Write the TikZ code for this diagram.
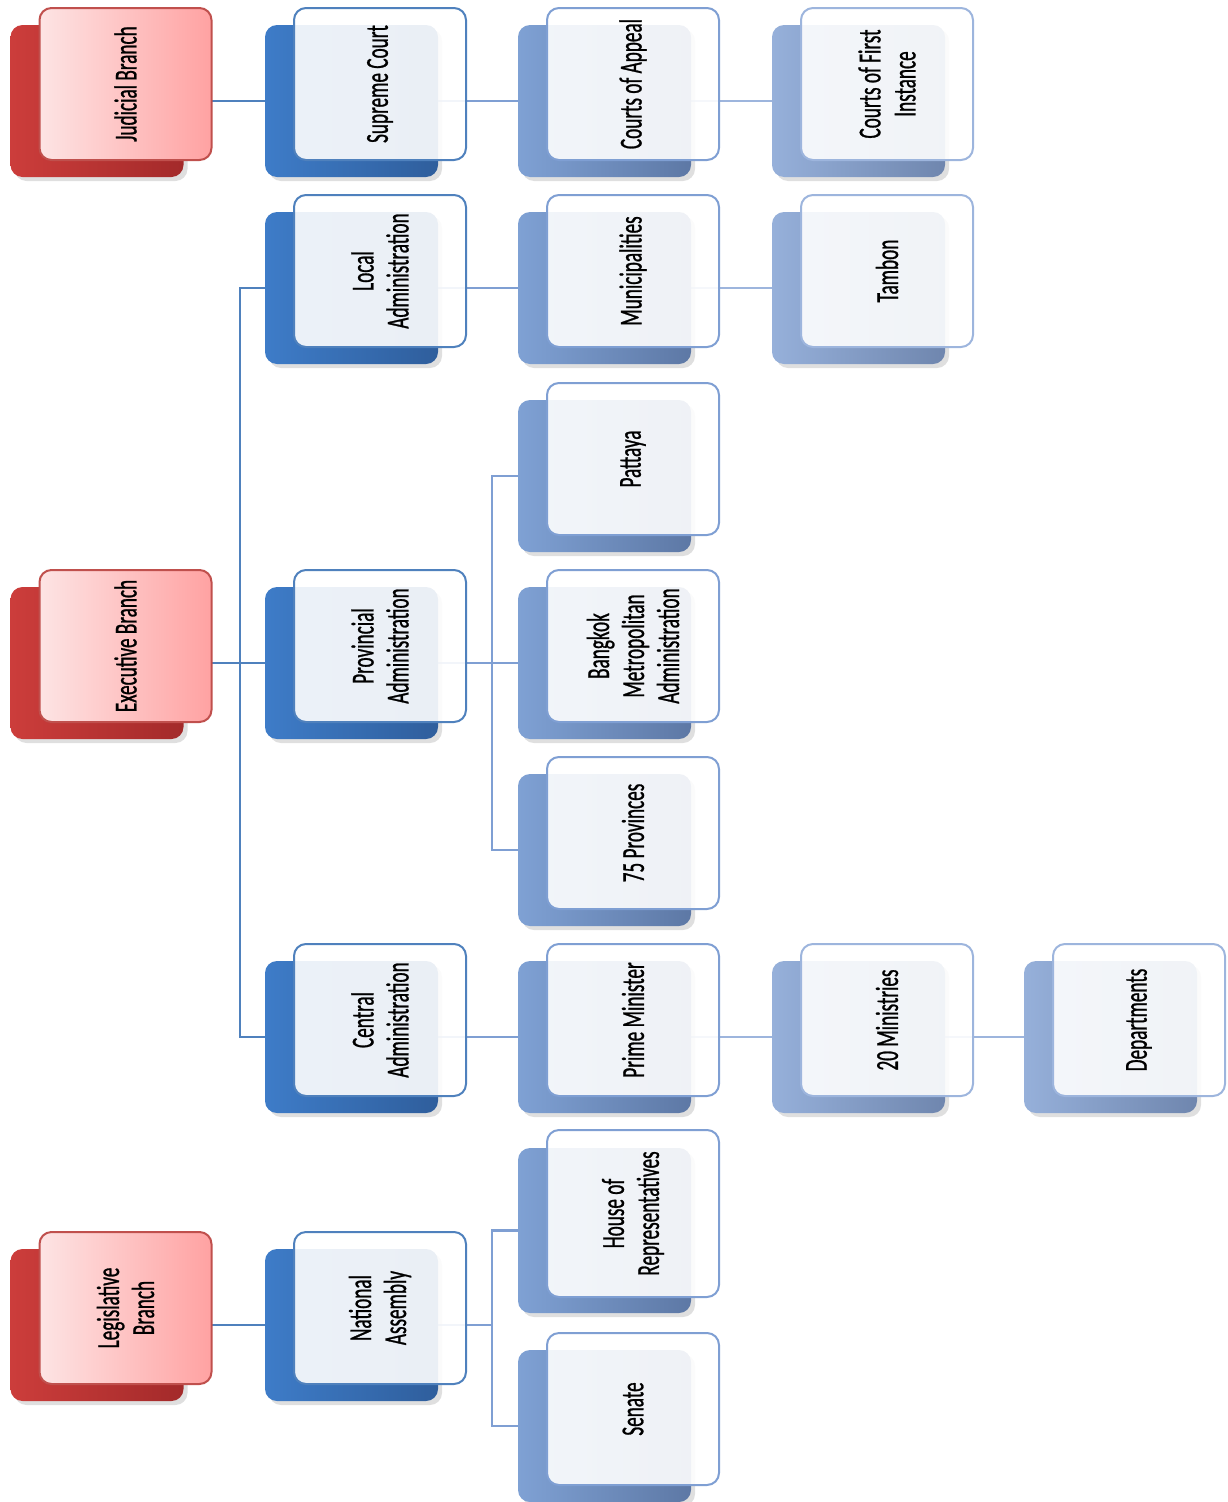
\documentclass[tikz,border=0pt]{standalone}
\usepackage{fontspec}
\setmainfont{Carlito}[FakeStretch=0.6,FakeBold=0.8]
\usepackage{tikz}
\usetikzlibrary{positioning,calc,shadows,backgrounds}
\definecolor{RedBack}{HTML}{CC3D3B}
\definecolor{RedBackDk}{HTML}{A32A2A}
\definecolor{RedFront}{HTML}{FDE4E4}
\definecolor{RedFrontDk}{HTML}{FFA2A2}
\definecolor{RedLine}{HTML}{C0504D}
\definecolor{BlueA}{HTML}{3E7CC8}
\definecolor{BlueADk}{HTML}{2F5E9C}
\definecolor{BlueALine}{HTML}{4F81BD}
\definecolor{BlueB}{HTML}{7FA1D4}
\definecolor{BlueBDk}{HTML}{5D78A5}
\definecolor{BlueBLine}{HTML}{7F9FD3}
\definecolor{BlueC}{HTML}{96B0DA}
\definecolor{BlueCDk}{HTML}{6F86AE}
\definecolor{BlueCLine}{HTML}{9DB5DD}
\tikzset{
  backbox/.style={rounded corners=12pt,minimum width=173pt,minimum height=152pt,inner sep=0pt,
    drop shadow={opacity=0.25,shadow xshift=4pt,shadow yshift=-4pt}},
  rback/.style={backbox,left color=RedBack,right color=RedBackDk},
  aback/.style={backbox,left color=BlueA,right color=BlueADk},
  bback/.style={backbox,left color=BlueB,right color=BlueBDk},
  cback/.style={backbox,left color=BlueC,right color=BlueCDk},
  frontbox/.style={rotate=90,rounded corners=12pt,minimum width=152pt,minimum height=172pt,
    inner sep=0pt,align=center,line width=2pt,font=\fontsize{32}{35}\selectfont},
  % the shading is not turned with the node, so left/right stay on the page
  rfront/.style={frontbox,draw=RedLine,left color=RedFront,right color=RedFrontDk},
  afront/.style={frontbox,draw=BlueALine,fill=white,fill opacity=0.9,text opacity=1},
  bfront/.style={frontbox,draw=BlueBLine,fill=white,fill opacity=0.9,text opacity=1},
  cfront/.style={frontbox,draw=BlueCLine,fill=white,fill opacity=0.9,text opacity=1},
  link/.style={line width=2.5pt}
}

\begin{document}
\begin{tikzpicture}[x=1pt,y=-1pt]
\useasboundingbox (0,0) rectangle (1227,1502);

% judicial row
\node[rback] (jud-b) at (97,101) {};
\node[rfront] (jud) at ($(jud-b)+(28.5,-17)$) {Judicial Branch};
\node[aback] (sup-b) at (351.5,101) {};
\node[afront] (sup) at ($(sup-b)+(28.5,-17)$) {Supreme Court};
\node[bback] (app-b) at (604.5,101) {};
\node[bfront] (app) at ($(app-b)+(28.5,-17)$) {Courts of Appeal};
\node[cback] (fir-b) at (858.5,101) {};
\node[cfront] (fir) at ($(fir-b)+(28.5,-17)$) {Courts of First\\Instance};

% executive
\node[rback] (exe-b) at (97,663) {};
\node[rfront] (exe) at ($(exe-b)+(28.5,-17)$) {Executive Branch};

\node[aback] (loc-b) at (351.5,288) {};
\node[afront] (loc) at ($(loc-b)+(28.5,-17)$) {Local\\Administration};
\node[bback] (mun-b) at (604.5,288) {};
\node[bfront] (mun) at ($(mun-b)+(28.5,-17)$) {Municipalities};
\node[cback] (tam-b) at (858.5,288) {};
\node[cfront] (tam) at ($(tam-b)+(28.5,-17)$) {Tambon};

\node[aback] (prv-b) at (351.5,663) {};
\node[afront] (prv) at ($(prv-b)+(28.5,-17)$) {Provincial\\Administration};
\node[bback] (pat-b) at (604.5,476) {};
\node[bfront] (pat) at ($(pat-b)+(28.5,-17)$) {Pattaya};
\node[bback] (bkk-b) at (604.5,663) {};
\node[bfront] (bkk) at ($(bkk-b)+(28.5,-17)$) {Bangkok\\Metropolitan\\Administration};
\node[bback] (pvs-b) at (604.5,850) {};
\node[bfront] (pvs) at ($(pvs-b)+(28.5,-17)$) {75 Provinces};

\node[aback] (cen-b) at (351.5,1037) {};
\node[afront] (cen) at ($(cen-b)+(28.5,-17)$) {Central\\Administration};
\node[bback] (pm-b) at (604.5,1037) {};
\node[bfront] (pm) at ($(pm-b)+(28.5,-17)$) {Prime Minister};
\node[cback] (min-b) at (858.5,1037) {};
\node[cfront] (min) at ($(min-b)+(28.5,-17)$) {20 Ministries};
\node[cback] (dep-b) at (1110.5,1037) {};
\node[cfront] (dep) at ($(dep-b)+(28.5,-17)$) {Departments};

% legislative
\node[rback] (leg-b) at (97,1325) {};
\node[rfront] (leg) at ($(leg-b)+(28.5,-17)$) {Legislative\\Branch};
\node[aback] (nat-b) at (351.5,1325) {};
\node[afront] (nat) at ($(nat-b)+(28.5,-17)$) {National\\Assembly};
\node[bback,minimum height=165pt] (hor-b) at (604.5,1230.5) {};
\node[bfront,minimum width=167pt] (hor) at ($(hor-b)+(28.5,-17)$) {House of\\Representatives};
\node[bback] (sen-b) at (604.5,1426) {};
\node[bfront] (sen) at ($(sen-b)+(28.5,-17)$) {Senate};

\coordinate (exfork) at (240,0);
\coordinate (pvfork) at (492,0);

\begin{scope}[on background layer]
\draw[link,BlueALine] (jud-b) -- (sup-b);
\draw[link,BlueBLine] (sup-b) -- (app-b);
\draw[link,BlueCLine] (app-b) -- (fir-b);

\draw[link,BlueALine] (exe-b) -- (prv-b);
\draw[link,BlueALine] (loc-b.center) -| (exfork |- cen-b.center) -- (cen-b.center);
\draw[link,BlueBLine] (loc-b) -- (mun-b);
\draw[link,BlueCLine] (mun-b) -- (tam-b);
\draw[link,BlueBLine] (prv-b) -- (bkk-b);
\draw[link,BlueBLine] (pat-b.center) -| (pvfork |- pvs-b.center) -- (pvs-b.center);
\draw[link,BlueBLine] (cen-b) -- (pm-b);
\draw[link,BlueCLine] (pm-b) -- (min-b);
\draw[link,BlueCLine] (min-b) -- (dep-b);

\draw[link,BlueALine] (leg-b) -- (nat-b);
\draw[link,BlueBLine] (nat-b.center) -- (nat-b.center -| pvfork);
\draw[link,BlueBLine] (hor-b.center) -| (pvfork |- sen-b.center) -- (sen-b.center);
\end{scope}
\end{tikzpicture}
\end{document}
